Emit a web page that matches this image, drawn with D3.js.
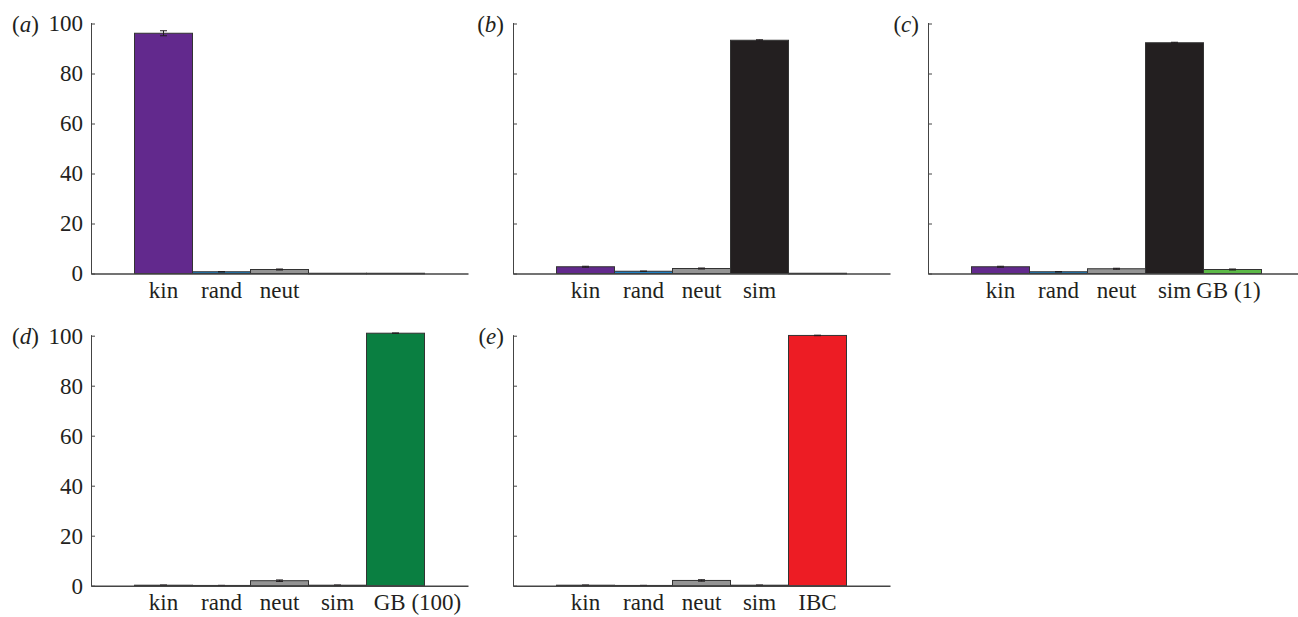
<!DOCTYPE html>
<html>
<head>
<meta charset="utf-8">
<script src="https://cdn.jsdelivr.net/npm/d3@7"></script>
<style>
	body { margin: 0; background: #fff; }
	svg { display: block; }
</style>
</head>
<body>
<div id="vis"></div>
<script>
// panel letters, category labels, bar values (%) and error half-widths
var panelLetters = ['a', 'b', 'c', 'd', 'e'];

var categoryLabels = [
	['kin', 'rand', 'neut', '', ''],
	['kin', 'rand', 'neut', 'sim', ''],
	['kin', 'rand', 'neut', 'sim', 'GB (1)'],
	['kin', 'rand', 'neut', 'sim', 'GB (100)'],
	['kin', 'rand', 'neut', 'sim', 'IBC']
];

var barValues = [
	[96.1, 0.7, 1.6, 0.1, 0.1],
	[2.7, 0.9, 2.0, 93.3, 0.1],
	[2.7, 0.7, 1.9, 92.3, 1.6],
	[0.2, 0.1, 2.0, 0.2, 101.0],
	[0.2, 0.1, 2.1, 0.2, 100.1]
];

var barErrors = [
	[1.0, 0.1, 0.2, 0, 0],
	[0.2, 0.1, 0.2, 0.2, 0],
	[0.2, 0.1, 0.2, 0.2, 0.2],
	[0.05, 0.05, 0.3, 0.05, 0.1],
	[0.05, 0.05, 0.3, 0.05, 0.1]
];

var barColors = [
	['#62298d', '#1f80c3', '#949494', '#231f20', '#231f20'],
	['#62298d', '#1f80c3', '#949494', '#231f20', '#231f20'],
	['#62298d', '#1f80c3', '#949494', '#231f20', '#5cb947'],
	['#62298d', '#1f80c3', '#949494', '#231f20', '#0a7f41'],
	['#62298d', '#1f80c3', '#949494', '#231f20', '#ed1c24']
];

var yTicks = [0, 20, 40, 60, 80, 100];

var width = 1298,
	height = 617;

var columnX = [91, 513, 928],
	rowTop = [22.5, 334.7],
	plotHeight = 251,
	plotWidth = 377;

var svg = d3.select('#vis')
	.append('svg')
	.attr('width', width)
	.attr('height', height)
	.attr('font-family', 'Liberation Serif')
	.attr('font-size', 23);

var y = d3.scaleLinear()
	.domain([0, 100.4])
	.range([plotHeight, 0]);

var x = d3.scaleBand()
	.domain(d3.range(5))
	.range([0, plotWidth])
	.paddingInner(0)
	.paddingOuter(0.75);

// d3 axes put sans-serif 10px on their group; drop it so the svg font is inherited
var plainAxis = function(a) {
	a.attr('font-family', null).attr('font-size', null);
	a.selectAll('path, line').attr('stroke', '#444');
	a.selectAll('text').attr('fill', '#231f20');
};

panelLetters.forEach(function(letter, p) {
	var col = p % 3,
		row = Math.floor(p / 3),
		showTicks = (col === 0);

	var g = svg.append('g')
		.attr('transform', 'translate(' + columnX[col] + ',' + rowTop[row] + ')');

	// bars
	g.selectAll('rect.bar')
		.data(barValues[p])
		.enter().append('rect')
		.attr('class', 'bar')
		.attr('x', function(d, i) { return x(i); })
		.attr('y', function(d) { return y(d); })
		.attr('width', x.bandwidth())
		.attr('height', function(d) { return Math.max(0.6, y(0) - y(d)); })
		.attr('fill', function(d, i) { return barColors[p][i]; })
		.attr('stroke', '#333')
		.attr('stroke-width', 1);

	// error bars
	var err = g.selectAll('g.err')
		.data(barValues[p])
		.enter().append('g')
		.attr('class', 'err')
		.attr('stroke', '#231f20')
		.attr('stroke-width', 1);

	err.append('line')
		.attr('x1', function(d, i) { return x(i) + x.bandwidth() / 2; })
		.attr('x2', function(d, i) { return x(i) + x.bandwidth() / 2; })
		.attr('y1', function(d, i) { return y(d + barErrors[p][i]); })
		.attr('y2', function(d, i) { return y(d - barErrors[p][i]); });

	err.selectAll('line.cap')
		.data(function(d, i) {
			var e = barErrors[p][i];
			return e > 0 ? [[i, d + e], [i, d - e]] : [];
		})
		.enter().append('line')
		.attr('class', 'cap')
		.attr('x1', function(d) { return x(d[0]) + x.bandwidth() / 2 - 3.5; })
		.attr('x2', function(d) { return x(d[0]) + x.bandwidth() / 2 + 3.5; })
		.attr('y1', function(d) { return y(d[1]); })
		.attr('y2', function(d) { return y(d[1]); });

	// y axis
	var yAxis = d3.axisLeft(y)
		.tickValues(yTicks)
		.tickSizeInner(-4)
		.tickSizeOuter(0)
		.tickPadding(8);
	if (!showTicks) yAxis.tickFormat('');

	var yAxisG = g.append('g')
		.call(yAxis)
		.call(plainAxis);
	yAxisG.select('.domain').attr('stroke-width', 1);

	// x axis
	var xAxisG = g.append('g')
		.attr('transform', 'translate(0,' + plotHeight + ')')
		.call(d3.axisBottom(x)
			.tickSize(0)
			.tickPadding(8)
			.tickFormat(function(i) { return categoryLabels[p][i]; }))
		.call(plainAxis);
	xAxisG.select('.domain').attr('stroke-width', 1.4);
	// the long last labels sit a little off their bar centres
	xAxisG.selectAll('.tick text')
		.attr('dx', function(i) { return (p === 3 && i === 4) ? 22 : (p === 2 && i === 4 ? -4 : 0); });

	// panel label (letter)
	var lab = g.append('text')
		.attr('fill', '#231f20')
		.attr('y', y(100))
		.attr('dy', '0.35em');
	if (showTicks) {
		lab.attr('x', -79).attr('text-anchor', 'start');
	} else {
		lab.attr('x', -9).attr('text-anchor', 'end');
	}
	lab.append('tspan').text('(');
	lab.append('tspan').attr('font-style', 'italic').text(letter);
	lab.append('tspan').text(')');
});
</script>
</body>
</html>
